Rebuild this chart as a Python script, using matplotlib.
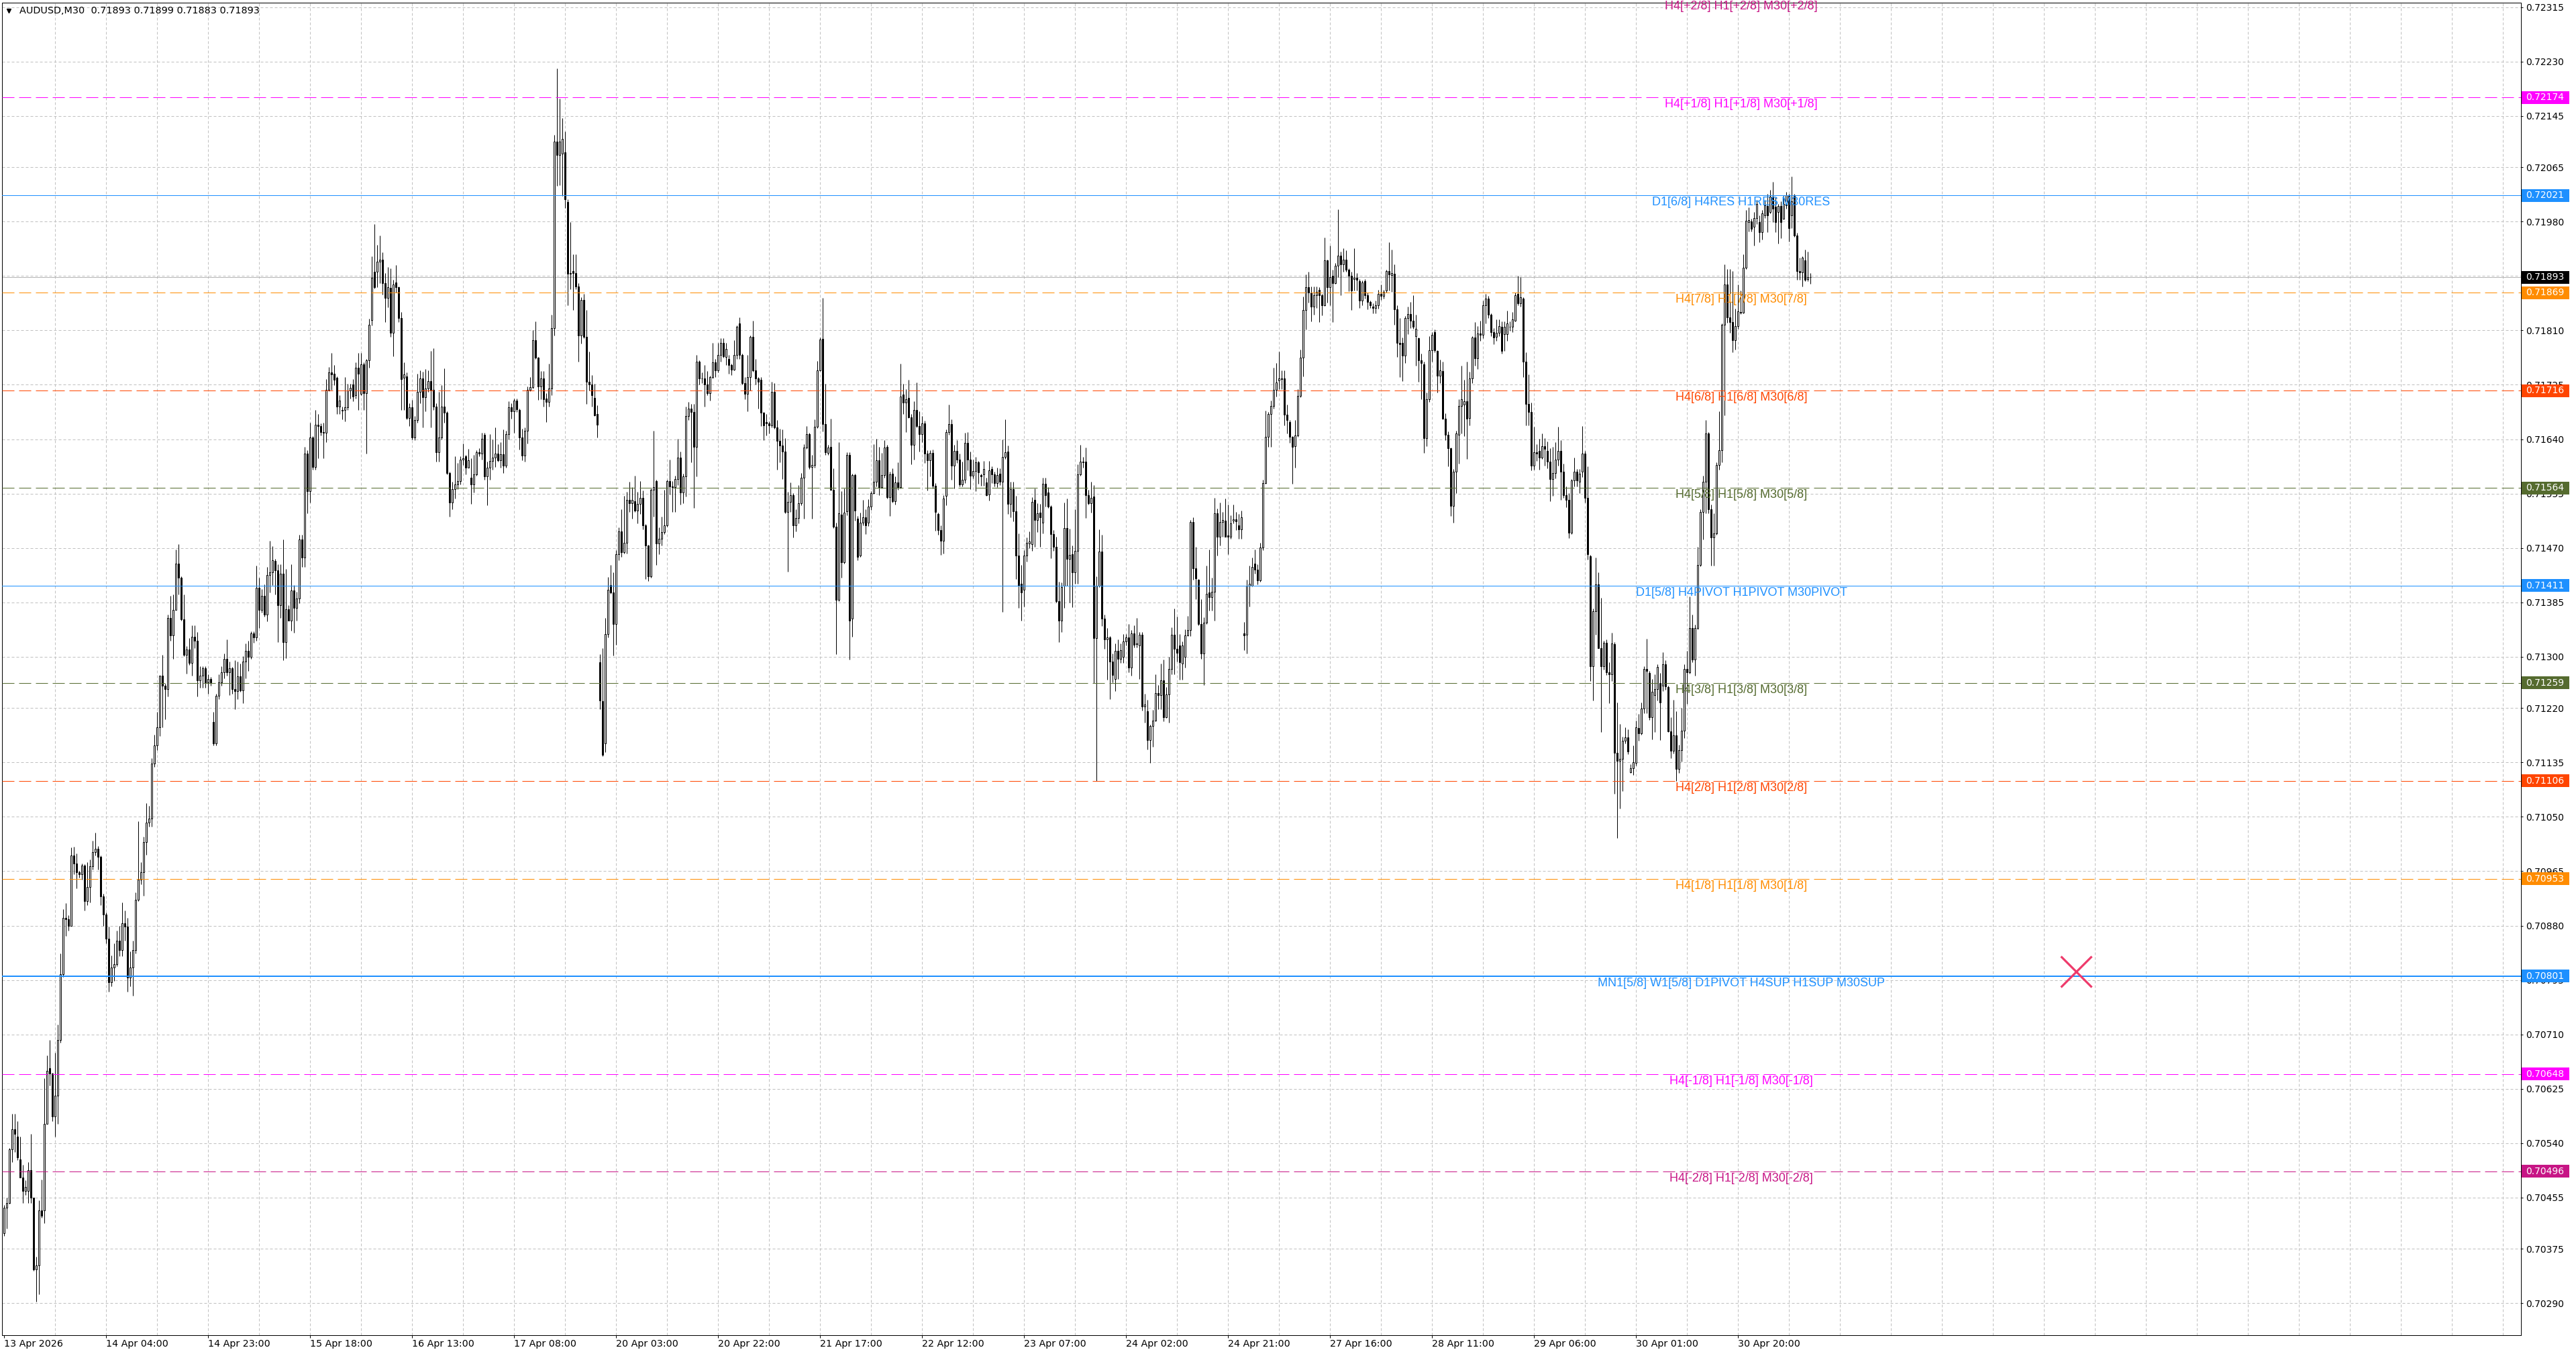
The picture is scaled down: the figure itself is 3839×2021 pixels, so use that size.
import numpy as np
import pandas as pd
import matplotlib
matplotlib.use("Agg")
import matplotlib.pyplot as plt
from matplotlib.patches import Rectangle
from matplotlib.lines import Line2D

plt.rcParams['font.family'] = ['DejaVu Sans']

SYMBOL = "AUDUSD,M30"
BASE = 0.70000       # prices below are in points (1e-5) above this base
POINT = 0.00001
FIRST_BAR = "2026-04-13 09:00"
trading_days = ["2026-04-13", "2026-04-14", "2026-04-15", "2026-04-16", "2026-04-17",
                "2026-04-20", "2026-04-21", "2026-04-22", "2026-04-23", "2026-04-24",
                "2026-04-27", "2026-04-28", "2026-04-29", "2026-04-30", "2026-05-01"]

bar_open = [
    399, 439, 447, 530, 562, 550, 515, 486, 465, 465,
    498, 455, 343, 349, 435, 435, 570, 657, 649, 582,
    614, 701, 804, 892, 890, 880, 990, 977, 963, 960,
    974, 918, 940, 973, 995, 1000, 987, 926, 897, 860,
    791, 815, 820, 856, 842, 884, 878, 799, 815, 842,
    920, 952, 963, 1011, 1041, 1047, 1133, 1162, 1190, 1270,
    1255, 1250, 1361, 1333, 1373, 1446, 1424, 1359, 1303, 1311,
    1290, 1331, 1325, 1263, 1271, 1282, 1260, 1265, 1198, 1165,
    1239, 1260, 1276, 1297, 1276, 1282, 1250, 1246, 1269, 1247,
    1293, 1309, 1300, 1337, 1330, 1408, 1373, 1395, 1366, 1428,
    1432, 1450, 1435, 1381, 1430, 1323, 1374, 1357, 1404, 1376,
    1391, 1483, 1455, 1618, 1559, 1643, 1597, 1663, 1661, 1651,
    1650, 1717, 1744, 1742, 1736, 1691, 1686, 1686, 1690, 1716,
    1726, 1709, 1752, 1711, 1757, 1712, 1763, 1826, 1902, 1902,
    1917, 1921, 1884, 1861, 1876, 1806, 1885, 1877, 1829, 1736,
    1738, 1673, 1690, 1643, 1670, 1714, 1735, 1706, 1719, 1731,
    1717, 1691, 1620, 1643, 1691, 1681, 1587, 1541, 1562, 1569,
    1575, 1608, 1613, 1596, 1580, 1569, 1585, 1620, 1617, 1647,
    1582, 1596, 1606, 1611, 1618, 1607, 1616, 1599, 1648, 1690,
    1684, 1700, 1686, 1643, 1614, 1653, 1717, 1721, 1795, 1767,
    1722, 1735, 1704, 1698, 1719, 1814, 2105, 2084, 2086, 2088,
    2011, 1898, 1903, 1899, 1879, 1802, 1858, 1800, 1730, 1725,
    1705, 1679, 1291, 1231, 1165, 1335, 1412, 1400, 1351, 1460,
    1496, 1463, 1478, 1545, 1540, 1543, 1528, 1539, 1548, 1505,
    1474, 1426, 1561, 1575, 1477, 1484, 1495, 1505, 1575, 1566,
    1565, 1578, 1611, 1557, 1582, 1676, 1688, 1683, 1628, 1761,
    1735, 1735, 1725, 1712, 1737, 1760, 1747, 1772, 1791, 1768,
    1765, 1756, 1749, 1772, 1821, 1772, 1728, 1711, 1737, 1800,
    1747, 1735, 1733, 1681, 1667, 1665, 1662, 1714, 1658, 1637,
    1630, 1621, 1526, 1542, 1552, 1505, 1517, 1540, 1580, 1627,
    1648, 1597, 1600, 1659, 1748, 1797, 1664, 1619, 1628, 1561,
    1503, 1389, 1522, 1448, 1527, 1615, 1360, 1584, 1516, 1458,
    1510, 1518, 1510, 1535, 1556, 1573, 1607, 1565, 1584, 1628,
    1549, 1586, 1543, 1572, 1565, 1710, 1697, 1705, 1674, 1631,
    1686, 1660, 1648, 1665, 1617, 1607, 1619, 1567, 1523, 1498,
    1481, 1551, 1651, 1664, 1599, 1622, 1608, 1569, 1577, 1634,
    1608, 1583, 1590, 1604, 1584, 1585, 1572, 1554, 1593, 1585,
    1571, 1586, 1573, 1612, 1621, 1539, 1562, 1527, 1458, 1414,
    1405, 1458, 1477, 1476, 1545, 1514, 1525, 1510, 1570, 1557,
    1535, 1492, 1472, 1387, 1356, 1411, 1501, 1453, 1460, 1432,
    1465, 1585, 1605, 1605, 1552, 1540, 1550, 1329, 1411, 1464,
    1360, 1327, 1330, 1293, 1265, 1309, 1297, 1300, 1324, 1330,
    1283, 1337, 1320, 1318, 1334, 1222, 1215, 1170, 1192, 1200,
    1243, 1240, 1263, 1205, 1241, 1281, 1334, 1312, 1318, 1289,
    1300, 1333, 1342, 1511, 1438, 1420, 1351, 1305, 1353, 1400,
    1393, 1402, 1524, 1487, 1511, 1513, 1490, 1487, 1513, 1515,
    1505, 1499, 1337, 1334, 1411, 1411, 1446, 1436, 1419, 1471,
    1571, 1644, 1679, 1692, 1717, 1732, 1735, 1735, 1678, 1667,
    1644, 1629, 1646, 1708, 1767, 1842, 1878, 1869, 1847, 1865,
    1873, 1865, 1849, 1919, 1877, 1895, 1884, 1911, 1927, 1913,
    1920, 1905, 1895, 1890, 1892, 1887, 1857, 1887, 1865, 1854,
    1847, 1845, 1849, 1867, 1864, 1872, 1903, 1896, 1898, 1843,
    1790, 1790, 1771, 1829, 1836, 1825, 1801, 1798, 1763, 1757,
    1642, 1702, 1779, 1807, 1778, 1739, 1746, 1672, 1647, 1626,
    1536, 1589, 1647, 1692, 1694, 1699, 1673, 1735, 1799, 1766,
    1805, 1803, 1849, 1860, 1834, 1807, 1800, 1806, 1816, 1804,
    1804, 1816, 1816, 1825, 1867, 1852, 1860, 1761, 1695, 1682,
    1599, 1620, 1622, 1611, 1629, 1622, 1605, 1578, 1587, 1608,
    1622, 1589, 1553, 1545, 1494, 1576, 1589, 1574, 1589, 1618,
    1548, 1457, 1285, 1371, 1413, 1314, 1285, 1322, 1276, 1273,
    1320, 1150, 1137, 1141, 1169, 1174, 1120, 1126, 1134, 1189,
    1180, 1219, 1281, 1275, 1205, 1240, 1250, 1259, 1255, 1288,
    1253, 1183, 1153, 1177, 1125, 1154, 1185, 1281, 1276, 1345,
    1296, 1345, 1444, 1526, 1574, 1649, 1531, 1486, 1493, 1600,
    1623, 1819, 1882, 1830, 1823, 1795, 1817, 1839, 1838, 1908,
    1979, 1980, 1972, 1986, 1979, 1963, 1990, 2004, 1995, 2019,
    2003, 1995, 2004, 1984, 2005, 2021, 1990, 2021, 1958, 1903,
    1901, 1919, 1890, 1893]

bar_high = [
    443, 455, 532, 586, 586, 574, 550, 506, 482, 510,
    554, 455, 363, 451, 483, 641, 677, 701, 650, 681,
    725, 836, 906, 915, 896, 1002, 1003, 993, 965, 977,
    976, 979, 983, 1013, 1025, 1004, 990, 930, 900, 878,
    833, 852, 872, 880, 916, 904, 892, 840, 856, 932,
    1043, 979, 1019, 1071, 1067, 1142, 1178, 1214, 1271, 1303,
    1258, 1366, 1395, 1397, 1468, 1476, 1426, 1397, 1317, 1329,
    1349, 1349, 1339, 1285, 1285, 1285, 1273, 1268, 1214, 1242,
    1273, 1285, 1305, 1327, 1293, 1284, 1295, 1293, 1289, 1301,
    1321, 1325, 1340, 1340, 1442, 1424, 1406, 1413, 1440, 1481,
    1473, 1453, 1445, 1445, 1483, 1437, 1381, 1445, 1412, 1402,
    1491, 1491, 1628, 1623, 1666, 1645, 1686, 1679, 1665, 1666,
    1734, 1753, 1775, 1756, 1738, 1709, 1691, 1737, 1727, 1727,
    1734, 1760, 1775, 1775, 1760, 1765, 1828, 1926, 1976, 1944,
    1958, 1932, 1899, 1909, 1907, 1889, 1912, 1879, 1839, 1760,
    1744, 1696, 1701, 1676, 1742, 1748, 1745, 1750, 1748, 1778,
    1782, 1696, 1714, 1724, 1751, 1684, 1589, 1574, 1613, 1603,
    1613, 1633, 1615, 1625, 1610, 1615, 1623, 1626, 1650, 1650,
    1605, 1648, 1640, 1658, 1632, 1635, 1655, 1653, 1699, 1696,
    1703, 1703, 1688, 1656, 1658, 1722, 1737, 1810, 1824, 1768,
    1746, 1746, 1712, 1758, 1835, 2116, 2219, 2172, 2142, 2121,
    2015, 1979, 1929, 1929, 1884, 1862, 1867, 1842, 1777, 1740,
    1727, 1693, 1304, 1313, 1361, 1425, 1444, 1432, 1467, 1502,
    1530, 1551, 1558, 1573, 1565, 1583, 1558, 1575, 1560, 1507,
    1475, 1563, 1653, 1577, 1502, 1519, 1561, 1577, 1608, 1575,
    1583, 1641, 1621, 1586, 1691, 1698, 1695, 1695, 1772, 1763,
    1744, 1756, 1746, 1739, 1790, 1765, 1791, 1798, 1798, 1791,
    1772, 1758, 1795, 1818, 1830, 1774, 1737, 1772, 1802, 1825,
    1765, 1737, 1737, 1683, 1679, 1668, 1730, 1728, 1670, 1656,
    1655, 1642, 1558, 1572, 1556, 1530, 1568, 1587, 1632, 1660,
    1650, 1615, 1671, 1762, 1799, 1861, 1727, 1631, 1672, 1594,
    1510, 1635, 1559, 1563, 1620, 1620, 1586, 1586, 1520, 1525,
    1545, 1530, 1546, 1559, 1632, 1641, 1628, 1619, 1638, 1631,
    1589, 1594, 1582, 1604, 1758, 1727, 1718, 1733, 1679, 1699,
    1729, 1684, 1676, 1669, 1623, 1623, 1624, 1571, 1525, 1505,
    1553, 1655, 1694, 1671, 1631, 1638, 1618, 1605, 1650, 1651,
    1621, 1608, 1612, 1606, 1586, 1606, 1580, 1606, 1598, 1589,
    1595, 1594, 1640, 1671, 1630, 1573, 1574, 1551, 1493, 1444,
    1467, 1486, 1496, 1549, 1563, 1540, 1539, 1580, 1580, 1565,
    1537, 1498, 1487, 1417, 1416, 1541, 1547, 1500, 1474, 1531,
    1601, 1631, 1612, 1627, 1561, 1573, 1568, 1426, 1499, 1491,
    1366, 1345, 1332, 1305, 1321, 1327, 1321, 1336, 1336, 1351,
    1342, 1349, 1361, 1339, 1339, 1242, 1233, 1194, 1217, 1273,
    1256, 1289, 1296, 1253, 1300, 1346, 1375, 1363, 1336, 1324,
    1343, 1364, 1514, 1518, 1472, 1421, 1390, 1362, 1442, 1468,
    1424, 1548, 1532, 1541, 1526, 1547, 1538, 1521, 1538, 1526,
    1523, 1528, 1354, 1420, 1442, 1455, 1468, 1445, 1478, 1577,
    1685, 1682, 1700, 1752, 1759, 1777, 1747, 1747, 1694, 1670,
    1645, 1670, 1718, 1780, 1863, 1897, 1902, 1879, 1879, 1879,
    1877, 1867, 1955, 1921, 1943, 1905, 1915, 1999, 1933, 1938,
    1935, 1907, 1902, 1938, 1899, 1890, 1888, 1890, 1869, 1857,
    1852, 1857, 1873, 1882, 1873, 1905, 1948, 1936, 1913, 1849,
    1829, 1799, 1832, 1847, 1854, 1865, 1834, 1799, 1774, 1761,
    1713, 1801, 1807, 1811, 1779, 1764, 1761, 1680, 1652, 1627,
    1593, 1653, 1702, 1755, 1733, 1761, 1745, 1801, 1823, 1817,
    1825, 1857, 1867, 1864, 1837, 1814, 1827, 1827, 1824, 1824,
    1841, 1824, 1839, 1869, 1895, 1893, 1862, 1776, 1741, 1697,
    1659, 1632, 1641, 1649, 1642, 1636, 1626, 1628, 1635, 1659,
    1638, 1602, 1566, 1556, 1578, 1611, 1593, 1593, 1660, 1622,
    1598, 1459, 1375, 1455, 1432, 1392, 1325, 1327, 1291, 1338,
    1323, 1229, 1195, 1175, 1190, 1187, 1132, 1162, 1200, 1211,
    1229, 1285, 1328, 1278, 1265, 1273, 1288, 1275, 1307, 1295,
    1255, 1205, 1233, 1215, 1163, 1220, 1288, 1309, 1394, 1366,
    1350, 1472, 1531, 1583, 1670, 1651, 1538, 1524, 1604, 1684,
    1821, 1913, 1906, 1906, 1903, 1844, 1882, 1872, 1929, 1998,
    2002, 1984, 1995, 2014, 1990, 1998, 2014, 2023, 2030, 2042,
    2018, 2007, 2012, 2021, 2026, 2023, 2051, 2023, 1962, 1924,
    1926, 1936, 1933, 1899]

bar_low = [
    395, 407, 445, 510, 526, 514, 486, 447, 459, 447,
    447, 341, 292, 304, 423, 415, 570, 630, 574, 550,
    570, 697, 800, 864, 872, 880, 960, 938, 955, 952,
    904, 912, 916, 968, 990, 968, 912, 880, 852, 777,
    785, 793, 817, 832, 832, 856, 777, 785, 770, 836,
    918, 944, 927, 991, 1035, 1035, 1128, 1154, 1176, 1190,
    1202, 1238, 1325, 1297, 1373, 1397, 1357, 1301, 1274, 1287,
    1270, 1313, 1238, 1252, 1252, 1252, 1242, 1255, 1162, 1162,
    1234, 1255, 1266, 1271, 1240, 1242, 1218, 1234, 1245, 1228,
    1266, 1278, 1297, 1322, 1325, 1345, 1369, 1363, 1355, 1400,
    1412, 1397, 1323, 1361, 1295, 1298, 1356, 1341, 1338, 1356,
    1384, 1440, 1440, 1524, 1541, 1592, 1592, 1610, 1646, 1610,
    1635, 1715, 1717, 1724, 1679, 1679, 1671, 1668, 1686, 1704,
    1699, 1704, 1686, 1709, 1686, 1618, 1752, 1818, 1875, 1877,
    1884, 1866, 1823, 1846, 1800, 1770, 1869, 1823, 1686, 1686,
    1671, 1661, 1640, 1638, 1666, 1696, 1658, 1684, 1714, 1658,
    1686, 1605, 1605, 1640, 1666, 1585, 1519, 1531, 1547, 1562,
    1569, 1600, 1585, 1595, 1539, 1557, 1583, 1613, 1608, 1577,
    1537, 1577, 1592, 1597, 1605, 1595, 1587, 1595, 1640, 1672,
    1650, 1683, 1624, 1607, 1605, 1633, 1715, 1719, 1765, 1701,
    1702, 1691, 1667, 1691, 1709, 1802, 2036, 2037, 2020, 2001,
    1849, 1874, 1842, 1874, 1761, 1789, 1798, 1695, 1716, 1691,
    1676, 1643, 1218, 1145, 1151, 1330, 1398, 1302, 1319, 1451,
    1456, 1461, 1461, 1526, 1516, 1526, 1509, 1523, 1499, 1421,
    1418, 1424, 1519, 1444, 1460, 1474, 1492, 1503, 1554, 1526,
    1526, 1568, 1538, 1540, 1550, 1670, 1604, 1533, 1582, 1726,
    1728, 1691, 1709, 1700, 1735, 1737, 1744, 1761, 1767, 1756,
    1742, 1740, 1747, 1765, 1765, 1726, 1702, 1684, 1716, 1745,
    1726, 1688, 1660, 1639, 1646, 1649, 1658, 1656, 1592, 1604,
    1578, 1524, 1433, 1526, 1486, 1496, 1509, 1537, 1516, 1625,
    1593, 1516, 1596, 1657, 1746, 1652, 1615, 1615, 1560, 1501,
    1304, 1387, 1424, 1446, 1521, 1296, 1331, 1513, 1451, 1456,
    1505, 1492, 1504, 1529, 1555, 1566, 1552, 1563, 1580, 1547,
    1520, 1541, 1538, 1561, 1563, 1679, 1651, 1673, 1601, 1608,
    1658, 1621, 1635, 1603, 1560, 1582, 1563, 1497, 1491, 1459,
    1461, 1537, 1647, 1577, 1563, 1603, 1566, 1566, 1571, 1591,
    1562, 1579, 1559, 1570, 1567, 1567, 1551, 1544, 1571, 1566,
    1565, 1568, 1370, 1609, 1523, 1518, 1512, 1421, 1376, 1357,
    1379, 1449, 1470, 1465, 1472, 1495, 1472, 1493, 1535, 1533,
    1454, 1465, 1385, 1323, 1339, 1376, 1411, 1385, 1377, 1414,
    1414, 1583, 1596, 1517, 1538, 1525, 1259, 1106, 1409, 1348,
    1312, 1264, 1234, 1260, 1246, 1265, 1290, 1290, 1318, 1276,
    1270, 1315, 1315, 1265, 1216, 1197, 1155, 1134, 1159, 1199,
    1218, 1218, 1199, 1204, 1197, 1273, 1273, 1293, 1264, 1264,
    1283, 1332, 1332, 1420, 1390, 1349, 1297, 1256, 1351, 1372,
    1372, 1357, 1458, 1474, 1487, 1487, 1460, 1484, 1508, 1498,
    1484, 1484, 1310, 1305, 1378, 1410, 1430, 1413, 1417, 1467,
    1570, 1628, 1628, 1688, 1707, 1718, 1718, 1662, 1649, 1634,
    1570, 1595, 1644, 1706, 1738, 1811, 1853, 1824, 1835, 1845,
    1823, 1833, 1848, 1853, 1849, 1823, 1883, 1893, 1865, 1902,
    1902, 1871, 1842, 1872, 1872, 1845, 1849, 1860, 1843, 1845,
    1837, 1837, 1844, 1858, 1860, 1869, 1872, 1870, 1819, 1768,
    1737, 1731, 1759, 1804, 1814, 1812, 1755, 1730, 1702, 1619,
    1629, 1698, 1761, 1776, 1713, 1728, 1671, 1639, 1598, 1520,
    1510, 1556, 1602, 1649, 1645, 1609, 1662, 1728, 1755, 1750,
    1794, 1798, 1821, 1829, 1801, 1788, 1794, 1801, 1774, 1778,
    1794, 1809, 1807, 1824, 1849, 1847, 1737, 1662, 1662, 1591,
    1592, 1606, 1592, 1609, 1599, 1594, 1543, 1551, 1579, 1599,
    1545, 1548, 1534, 1485, 1492, 1566, 1566, 1556, 1581, 1541,
    1452, 1262, 1232, 1334, 1313, 1182, 1280, 1272, 1228, 1262,
    1086, 1017, 1063, 1090, 1165, 1148, 1118, 1115, 1130, 1169,
    1178, 1212, 1212, 1201, 1171, 1182, 1232, 1170, 1246, 1249,
    1182, 1142, 1149, 1106, 1118, 1136, 1173, 1227, 1274, 1292,
    1271, 1343, 1441, 1483, 1524, 1524, 1442, 1442, 1491, 1592,
    1604, 1677, 1822, 1806, 1776, 1780, 1812, 1836, 1837, 1906,
    1965, 1965, 1942, 1976, 1948, 1952, 1986, 1963, 1993, 1979,
    1963, 1946, 1954, 1983, 2000, 1949, 1970, 1956, 1889, 1889,
    1879, 1887, 1887, 1883]

bar_close = [
    439, 447, 530, 562, 555, 518, 486, 465, 472, 498,
    455, 343, 349, 435, 427, 570, 653, 649, 582, 614,
    701, 804, 892, 890, 880, 990, 977, 963, 960, 974,
    918, 940, 973, 995, 1000, 987, 926, 897, 860, 791,
    815, 820, 856, 842, 884, 878, 799, 815, 842, 920,
    952, 963, 1011, 1041, 1047, 1133, 1162, 1190, 1270, 1255,
    1250, 1361, 1333, 1373, 1446, 1424, 1359, 1303, 1311, 1290,
    1331, 1325, 1263, 1271, 1282, 1260, 1265, 1260, 1165, 1239,
    1260, 1276, 1297, 1276, 1282, 1250, 1246, 1269, 1247, 1293,
    1309, 1300, 1337, 1330, 1408, 1373, 1395, 1366, 1428, 1432,
    1451, 1435, 1381, 1430, 1323, 1374, 1357, 1404, 1376, 1391,
    1483, 1455, 1618, 1559, 1643, 1597, 1663, 1661, 1651, 1650,
    1717, 1744, 1741, 1733, 1691, 1700, 1685, 1690, 1716, 1720,
    1707, 1752, 1742, 1757, 1712, 1763, 1819, 1892, 1877, 1917,
    1921, 1884, 1861, 1878, 1806, 1882, 1877, 1829, 1734, 1741,
    1673, 1690, 1643, 1670, 1714, 1735, 1706, 1719, 1731, 1717,
    1691, 1620, 1643, 1691, 1681, 1587, 1541, 1562, 1569, 1575,
    1608, 1610, 1596, 1607, 1569, 1585, 1620, 1617, 1641, 1582,
    1596, 1606, 1611, 1618, 1607, 1616, 1599, 1648, 1690, 1684,
    1700, 1687, 1643, 1614, 1653, 1717, 1721, 1795, 1767, 1722,
    1735, 1702, 1698, 1719, 1814, 2105, 2084, 2105, 2109, 2015,
    1898, 1900, 1899, 1879, 1802, 1858, 1800, 1730, 1725, 1709,
    1677, 1663, 1232, 1147, 1335, 1405, 1400, 1351, 1460, 1496,
    1463, 1478, 1545, 1540, 1545, 1528, 1539, 1548, 1505, 1474,
    1426, 1561, 1565, 1477, 1484, 1495, 1505, 1575, 1566, 1565,
    1578, 1611, 1557, 1582, 1676, 1688, 1683, 1628, 1761, 1735,
    1735, 1725, 1712, 1737, 1760, 1747, 1772, 1791, 1770, 1781,
    1756, 1749, 1772, 1816, 1772, 1728, 1711, 1737, 1800, 1747,
    1735, 1730, 1681, 1662, 1665, 1662, 1714, 1658, 1637, 1630,
    1621, 1526, 1542, 1552, 1505, 1517, 1540, 1580, 1627, 1648,
    1597, 1600, 1659, 1748, 1796, 1664, 1620, 1627, 1561, 1503,
    1389, 1524, 1448, 1525, 1615, 1357, 1584, 1528, 1456, 1510,
    1518, 1505, 1535, 1556, 1573, 1607, 1565, 1584, 1627, 1549,
    1585, 1543, 1572, 1565, 1707, 1697, 1702, 1674, 1631, 1686,
    1660, 1648, 1665, 1617, 1607, 1619, 1567, 1526, 1498, 1481,
    1547, 1651, 1664, 1599, 1622, 1608, 1569, 1577, 1634, 1608,
    1583, 1590, 1604, 1588, 1582, 1593, 1552, 1591, 1585, 1571,
    1584, 1574, 1612, 1620, 1539, 1562, 1527, 1458, 1411, 1401,
    1458, 1478, 1480, 1542, 1514, 1524, 1518, 1570, 1553, 1535,
    1492, 1472, 1387, 1356, 1409, 1501, 1453, 1459, 1432, 1465,
    1585, 1605, 1604, 1552, 1540, 1548, 1329, 1411, 1464, 1360,
    1327, 1330, 1293, 1272, 1309, 1297, 1310, 1324, 1330, 1283,
    1337, 1319, 1321, 1334, 1222, 1225, 1170, 1192, 1200, 1243,
    1240, 1263, 1205, 1241, 1281, 1334, 1312, 1306, 1291, 1318,
    1333, 1342, 1511, 1438, 1423, 1351, 1305, 1353, 1398, 1393,
    1402, 1524, 1487, 1511, 1514, 1488, 1487, 1509, 1515, 1512,
    1499, 1518, 1333, 1411, 1414, 1440, 1436, 1419, 1471, 1571,
    1644, 1679, 1692, 1717, 1729, 1735, 1734, 1678, 1670, 1644,
    1628, 1646, 1708, 1767, 1842, 1878, 1869, 1847, 1865, 1870,
    1865, 1849, 1919, 1877, 1893, 1884, 1911, 1927, 1913, 1920,
    1905, 1895, 1872, 1892, 1889, 1857, 1885, 1865, 1854, 1849,
    1845, 1849, 1867, 1864, 1870, 1903, 1897, 1900, 1843, 1791,
    1788, 1771, 1829, 1836, 1825, 1816, 1813, 1763, 1759, 1642,
    1702, 1779, 1803, 1779, 1739, 1748, 1672, 1647, 1626, 1536,
    1589, 1649, 1692, 1702, 1699, 1672, 1735, 1799, 1766, 1805,
    1803, 1849, 1860, 1834, 1807, 1799, 1806, 1817, 1778, 1816,
    1821, 1816, 1827, 1865, 1852, 1862, 1761, 1695, 1682, 1599,
    1620, 1617, 1611, 1629, 1625, 1605, 1578, 1587, 1608, 1622,
    1589, 1553, 1545, 1494, 1576, 1589, 1576, 1586, 1618, 1548,
    1460, 1285, 1371, 1413, 1314, 1285, 1322, 1276, 1273, 1321,
    1150, 1137, 1141, 1169, 1174, 1152, 1126, 1135, 1190, 1180,
    1219, 1281, 1278, 1205, 1245, 1250, 1284, 1229, 1288, 1254,
    1183, 1153, 1177, 1125, 1154, 1185, 1281, 1276, 1345, 1296,
    1345, 1444, 1526, 1574, 1649, 1531, 1486, 1493, 1600, 1623,
    1819, 1882, 1830, 1823, 1795, 1817, 1840, 1838, 1908, 1981,
    1982, 1969, 1986, 2007, 1963, 1993, 2005, 1990, 2019, 2000,
    1979, 2004, 1979, 2007, 2021, 1970, 2012, 1958, 1903, 1901,
    1924, 1889, 1893, 1893]

# Murrey-math style levels drawn on the chart
level_prices = [0.72327, 0.72174, 0.72021, 0.71869, 0.71716, 0.71564, 0.71411,
                0.71259, 0.71106, 0.70953, 0.70801, 0.70648, 0.70496]
level_names = ["H4[+2/8] H1[+2/8] M30[+2/8]",
               "H4[+1/8] H1[+1/8] M30[+1/8]",
               "D1[6/8] H4RES H1RES M30RES",
               "H4[7/8] H1[7/8] M30[7/8]",
               "H4[6/8] H1[6/8] M30[6/8]",
               "H4[5/8] H1[5/8] M30[5/8]",
               "D1[5/8] H4PIVOT H1PIVOT M30PIVOT",
               "H4[3/8] H1[3/8] M30[3/8]",
               "H4[2/8] H1[2/8] M30[2/8]",
               "H4[1/8] H1[1/8] M30[1/8]",
               "MN1[5/8] W1[5/8] D1PIVOT H4SUP H1SUP M30SUP",
               "H4[-1/8] H1[-1/8] M30[-1/8]",
               "H4[-2/8] H1[-2/8] M30[-2/8]"]
level_colors = ["#C71585", "#FF00FF", "#1E90FF", "#FF8C00", "#FF4500", "#556B2F", "#1E90FF",
                "#556B2F", "#FF4500", "#FF8C00", "#1E90FF", "#FF00FF", "#C71585"]
level_solid = [False, False, True, False, False, False, True,
               False, False, False, True, False, False]

price_ticks = [0.72315, 0.72230, 0.72145, 0.72065, 0.71980, 0.71895, 0.71810, 0.71725,
               0.71640, 0.71555, 0.71470, 0.71385, 0.71300, 0.71220, 0.71135, 0.71050,
               0.70965, 0.70880, 0.70795, 0.70710, 0.70625, 0.70540, 0.70455, 0.70375,
               0.70290]

# --- build series -------------------------------------------------------
n = min(len(bar_open), len(bar_high), len(bar_low), len(bar_close))
o = BASE + np.array(bar_open[:n]) * POINT
c = BASE + np.array(bar_close[:n]) * POINT
h = np.maximum.reduce([BASE + np.array(bar_high[:n]) * POINT, o, c])
l = np.minimum.reduce([BASE + np.array(bar_low[:n]) * POINT, o, c])
x = np.arange(n)

times = []
for d in trading_days:
    times.extend(pd.date_range(d, periods=48, freq="30min"))
times = [t for t in times if t >= pd.Timestamp(FIRST_BAR)][:n]

last_bar = (o[-1], h[-1], l[-1], c[-1])

# --- figure geometry (pixels) -------------------------------------------
W, H = 3839, 2021
AX_L, AX_R, AX_T, AX_B = 3, 3757, 4, 1990
PX_PER_BAR, BAR0_PX = 4.0, 6.0
YMAX, YMIN = 0.72322, 0.70240

fig = plt.figure(figsize=(W / 100, H / 100), dpi=100)
fig.patch.set_facecolor("white")
ax = fig.add_axes([AX_L / W, (H - AX_B) / H, (AX_R - AX_L) / W, (AX_B - AX_T) / H])
ax.set_xlim((AX_L - BAR0_PX) / PX_PER_BAR, (AX_R - BAR0_PX) / PX_PER_BAR)
ax.set_ylim(YMIN, YMAX)
for s in ax.spines.values():
    s.set_linewidth(0.72)
    s.set_color("black")

px = 0.72  # one pixel in points
grid_kw = dict(color="#C0C0C0", lw=px, linestyle=(0, (4, 3)), zorder=0)
for p in price_ticks:
    ax.axhline(p, **grid_kw)
xmax = ax.get_xlim()[1]
for gx in np.arange(19, xmax, 19):
    ax.axvline(gx, **grid_kw)

# current price line
ax.axhline(last_bar[3], color="#B4B4B4", lw=px, zorder=1)

# candles
ax.vlines(x, l, h, color="black", lw=px, zorder=2)
bull = c >= o
ax.bar(x, np.abs(c - o), bottom=np.minimum(o, c), width=0.5,
       color=np.where(bull, "white", "black"), edgecolor="black", linewidth=px, zorder=3)

# level lines and labels
LABEL_X = 647.25
for p, name, col, solid in zip(level_prices, level_names, level_colors, level_solid):
    if solid:
        lw = 2 * px if "MN1" in name else px
        ax.axhline(p, color=col, lw=lw, zorder=4)
    else:
        ax.axhline(p, color=col, lw=px, linestyle=(0, (18, 7)), zorder=4)
    ax.annotate(name, xy=(LABEL_X, p), xytext=(0, -2), textcoords="offset pixels",
                ha="center", va="top", color=col, fontsize=13,
                family=["Liberation Sans", "DejaVu Sans"], zorder=6,
                annotation_clip=False)

# marker on the right
ax.plot([772], [0.70808], marker="x", markersize=33, mew=2.3, color="#EE3A6B", zorder=6)

# price axis
ax.yaxis.tick_right()
ax.set_yticks(price_ticks)
ax.set_yticklabels([f"{p:.5f}" for p in price_ticks])
ax.tick_params(axis="y", direction="out", length=2.2, width=px, pad=3, labelsize=10,
               colors="black")

# time axis
tick_bars = list(range(0, n, 38))
tick_labels = []
for i in tick_bars:
    t = times[i]
    tick_labels.append(f"{t.day} {t:%b %Y}" if i == 0 else f"{t.day} {t:%b %H:%M}")
ax.set_xticks(tick_bars)
ax.set_xticklabels(tick_labels)
for lab in ax.get_xticklabels():
    lab.set_ha("left")
ax.tick_params(axis="x", direction="out", length=2.9, width=px, pad=1.5, labelsize=10.3,
               colors="black")

# price tags on the axis
tag_prices = [p for p in level_prices if YMIN < p < YMAX] + [last_bar[3]]
tag_colors = [col for p, col in zip(level_prices, level_colors) if YMIN < p < YMAX] + ["black"]
for p, col in zip(tag_prices, tag_colors):
    yc = ax.transData.transform((0, p))[1]
    fig.add_artist(Rectangle((3758 / W, (yc - 9.5) / H), 71 / W, 19 / H,
                             transform=fig.transFigure, facecolor=col, edgecolor="none",
                             zorder=10))
    fig.text(3764 / W, yc / H, f"{p:.5f}", color="white", fontsize=10,
             ha="left", va="center", zorder=11)

# header
fig.add_artist(Line2D([13 / W], [1 - 16 / H], marker="v", markersize=5, color="black",
                      linestyle="none", transform=fig.transFigure))
fig.text(29 / W, 1 - 16 / H,
         f"{SYMBOL}  " + " ".join(f"{v:.5f}" for v in last_bar),
         fontsize=10.4, ha="left", va="center", color="black")

fig.savefig("out.png", dpi=100, facecolor="white")
